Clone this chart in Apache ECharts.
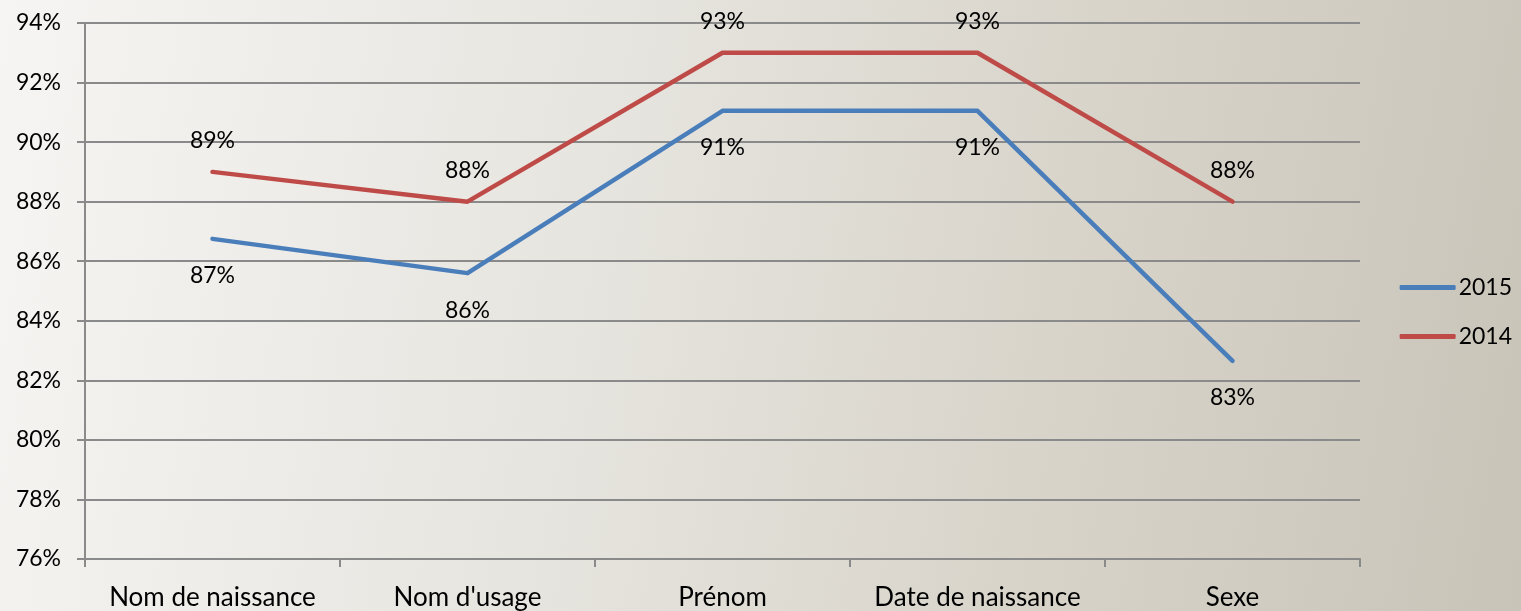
<!DOCTYPE html>
<html><head><meta charset="utf-8">
<script src="https://cdn.jsdelivr.net/npm/echarts@6/dist/echarts.min.js"></script>
<style>html,body{margin:0;padding:0;}#c{width:1521px;height:611px;background:linear-gradient(100deg,#f6f5f3 0%,#e6e4de 40%,#d7d3c9 70%,#c9c4b8 100%);}</style>
</head><body><div id="c"></div>
<script>
var categories = ["Nom de naissance","Nom d'usage","Prénom","Date de naissance","Sexe"];
var values2015 = [86.75, 85.6, 91.05, 91.05, 82.65];
var values2014 = [89, 88, 93, 93, 88];
var yTicks = [76,78,80,82,84,86,88,90,92,94];
var FONT = 'Lato, "Open Sans", sans-serif';
var chart = echarts.init(document.getElementById('c'));
chart.setOption({
  backgroundColor: 'transparent',
  textStyle:{fontFamily:FONT},
  grid:{left:85,right:161,top:23,bottom:52},
  legend:{
    orient:'vertical', right:4, top:271,
    data:['2015','2014'], itemWidth:56, itemHeight:5, itemGap:26,
    icon:'roundRect',
    textStyle:{fontSize:23,color:'#000',fontFamily:FONT,padding:[0,0,0,-2]}
  },
  xAxis:{
    type:'category', data:categories, boundaryGap:true,
    axisLine:{lineStyle:{color:'#8a8a8a',width:2}},
    axisTick:{show:true,interval:0,length:8,lineStyle:{color:'#8a8a8a',width:2}},
    axisLabel:{interval:0,fontSize:26,color:'#000',margin:26,fontFamily:FONT}
  },
  yAxis:{
    type:'value', min:yTicks[0], max:yTicks[yTicks.length-1], interval:2,
    axisLine:{show:true,lineStyle:{color:'#8a8a8a',width:2}},
    axisTick:{show:true,length:8,lineStyle:{color:'#8a8a8a',width:2}},
    splitLine:{lineStyle:{color:'#8a8a8a',width:2}},
    axisLabel:{fontSize:23,color:'#000',margin:24,fontFamily:FONT,formatter:function(v){return v+'%';}}
  },
  series:[
    {name:'2015',type:'line',data:values2015,symbol:'circle',symbolSize:1,
     lineStyle:{color:'#4a7ebb',width:4.5,cap:'round',join:'round'},itemStyle:{color:'#4a7ebb'},
     label:{show:true,position:'bottom',distance:25,fontSize:23,color:'#000',fontFamily:FONT,formatter:function(p){return Math.round(p.value)+'%';}}},
    {name:'2014',type:'line',data:values2014,symbol:'circle',symbolSize:1,
     lineStyle:{color:'#be4b48',width:4.5,cap:'round',join:'round'},itemStyle:{color:'#be4b48'},
     label:{show:true,position:'top',distance:19,fontSize:23,color:'#000',fontFamily:FONT,formatter:function(p){return Math.round(p.value)+'%';}}}
  ]
});
</script></body></html>
